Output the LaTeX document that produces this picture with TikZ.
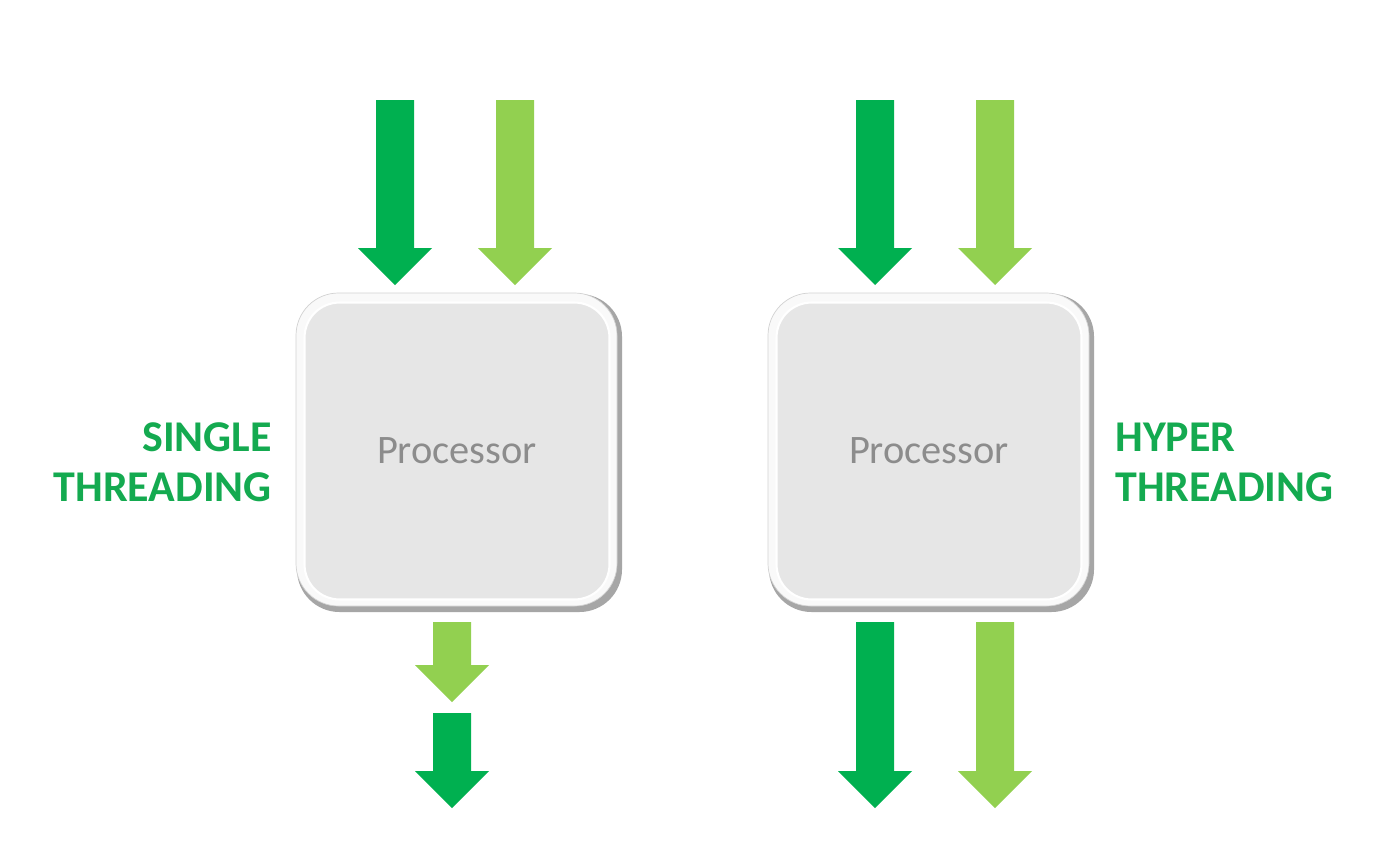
\documentclass[tikz,border=0pt]{standalone}
\usepackage{fontspec}
\setmainfont{Carlito}
\usepackage{tikz}

\definecolor{darkgreen}{RGB}{0,176,80}
\definecolor{lightgreen}{RGB}{146,208,80}
\definecolor{labelgreen}{RGB}{20,170,80}
\definecolor{facegray}{RGB}{230,230,230}
\definecolor{textgray}{RGB}{140,140,140}

% block arrow pointing down: centre x, top y, tip y, colour
\newcommand{\dnarrow}[4]{%
  \fill[#4] (#1-19,#2) -- (#1+19,#2) -- (#1+19,#3-37) -- (#1+37,#3-37)
    -- (#1,#3) -- (#1-37,#3-37) -- (#1-19,#3-37) -- cycle;}

\begin{document}
\begin{tikzpicture}[x=0.02cm,y=-0.02cm,
  proc_box/.style={rectangle,rounded corners=0.7cm,fill=facegray,draw=white,line width=1.2pt,
    minimum width=6.1cm,minimum height=5.94cm,inner sep=0,text=textgray,font=\fontsize{23}{27}\selectfont},
  rim/.style={rounded corners=0.85cm},
  lbl/.style={text=labelgreen,font=\fontsize{25}{28.4}\selectfont\bfseries,inner sep=0}]

    \useasboundingbox (0,0) rectangle (1393,849);
    \fill[white] (0,0) rectangle (1393,849);

    % left processor
    \fill[rim,gray!70] (297,294) rectangle (622,612);
    \fill[rim,gray!5,draw=gray!35] (296,293) rectangle (617,606);
    \node[proc_box] (cpu1) at (457,451) {Processor};

    % right processor
    \fill[rim,gray!70] (769,294) rectangle (1094,612);
    \fill[rim,gray!5,draw=gray!35] (768,293) rectangle (1089,606);
    \node[proc_box] (cpu2) at (929,451) {Processor};

    \node[lbl,anchor=east,align=right] (single) at (272,462) {SINGLE\\THREADING};
    \node[lbl,anchor=west,align=left] (hyper) at (1115,462) {HYPER\\THREADING};

    % single threading
    \dnarrow{395}{100}{285}{darkgreen}
    \dnarrow{515}{100}{285}{lightgreen}
    \dnarrow{452}{622}{702}{lightgreen}
    \dnarrow{452}{713}{808}{darkgreen}

    % hyper threading
    \dnarrow{875}{100}{285}{darkgreen}
    \dnarrow{995}{100}{285}{lightgreen}
    \dnarrow{875}{622}{808}{darkgreen}
    \dnarrow{995}{622}{808}{lightgreen}

\end{tikzpicture}
\end{document}
